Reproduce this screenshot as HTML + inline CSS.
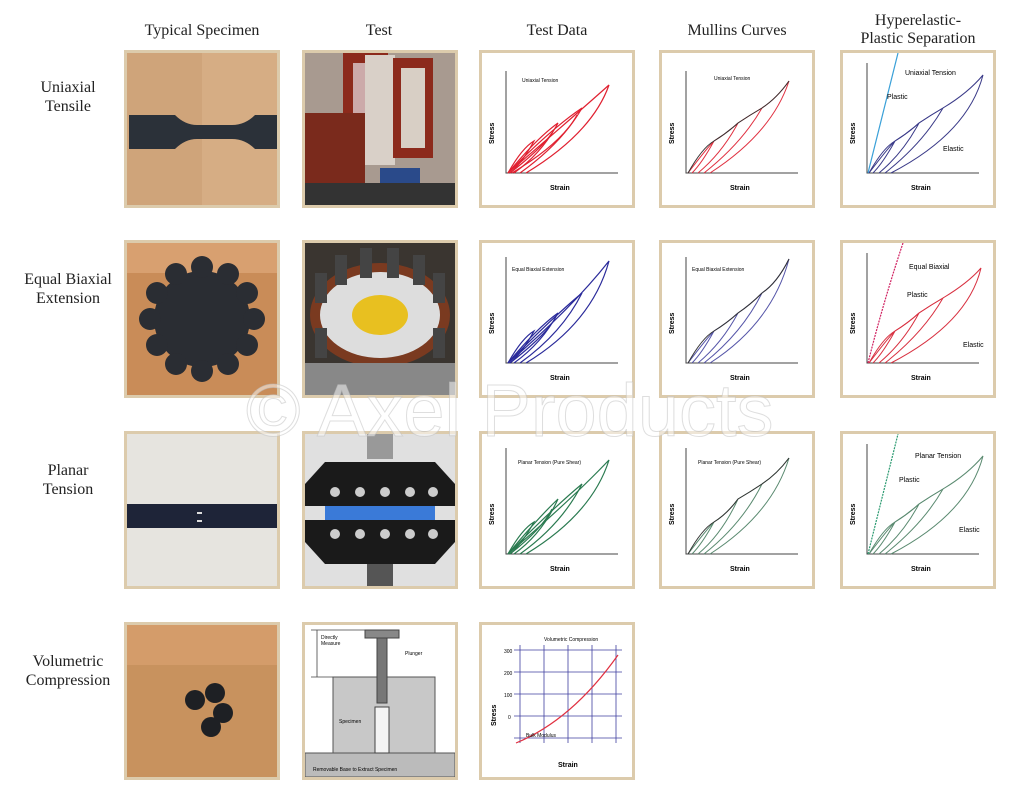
<!DOCTYPE html>
<html><head><meta charset="utf-8"><style>
body{margin:0;width:1024px;height:800px;background:#fff;position:relative;overflow:hidden;font-family:"Liberation Serif",serif;}
.h{position:absolute;top:20px;font-size:16px;color:#222;text-align:center;width:170px;line-height:18px}
.r{position:absolute;left:8px;width:120px;text-align:center;font-size:16px;color:#222;line-height:19px}
.b{position:absolute;width:150px;height:152px;border:3px solid #dccbac;overflow:hidden;background:#fff}
.b svg{position:absolute;left:0;top:0}
.wm{position:absolute;left:246px;top:368px;font-family:"Liberation Sans",sans-serif;font-size:74px;color:rgba(255,255,255,.5);-webkit-text-stroke:1px rgba(190,190,190,.5);white-space:nowrap}
</style></head><body>
<div class="h" style="left:117px;top:22px">Typical Specimen</div>
<div class="h" style="left:294px;top:22px">Test</div>
<div class="h" style="left:472px;top:22px">Test Data</div>
<div class="h" style="left:652px;top:22px">Mullins Curves</div>
<div class="h" style="left:833px;top:12px">Hyperelastic-<br>Plastic Separation</div>
<div class="r" style="top:78px">Uniaxial<br>Tensile</div>
<div class="r" style="top:270px">Equal Biaxial<br>Extension</div>
<div class="r" style="top:461px">Planar<br>Tension</div>
<div class="r" style="top:652px">Volumetric<br>Compression</div>

<!-- Row 1 -->
<div class="b" style="left:124px;top:50px;background:#d6ad84">
<svg width="150" height="152"><rect x="0" y="0" width="75" height="152" fill="#cfa47a"/><path d="M2,62 L48,62 Q58,72 70,72 L105,72 Q118,72 128,62 L150,62 L150,96 L128,96 Q118,86 105,86 L70,86 Q58,86 48,96 L2,96Z" fill="#2b3139"/></svg></div>
<div class="b" style="left:302px;top:50px;background:#6b5a52">
<svg width="150" height="152"><rect x="0" y="0" width="150" height="152" fill="#a89a90"/><rect x="38" y="0" width="45" height="90" fill="#8c2a1c"/><rect x="48" y="10" width="25" height="70" fill="#caa"/><rect x="60" y="2" width="30" height="110" fill="#d9d0c8"/><rect x="88" y="5" width="40" height="100" fill="#8c2a1c"/><rect x="96" y="15" width="24" height="80" fill="#d8cfc5"/><rect x="0" y="60" width="60" height="92" fill="#7a2a1c"/><rect x="75" y="115" width="40" height="37" fill="#2a4a8a"/><rect x="0" y="130" width="150" height="22" fill="#333"/></svg></div>

<div class="b" style="left:479px;top:50px">
<svg width="150" height="152" font-family="Liberation Sans" font-size="7"><text x="40" y="29" font-size="5">Uniaxial Tension</text><path d="M24,18 V120 H136" fill="none" stroke="#444"/><text x="6" y="85" transform="rotate(-90 12 85)" font-size="7" font-weight="bold">Stress</text><text x="68" y="137" font-weight="bold">Strain</text>
<g fill="none" stroke="#e02030" stroke-width="1.2"><path d="M26,120 Q40,95 52,88 Q40,110 28,120"/><path d="M26,120 Q55,85 76,70 Q60,100 32,120"/><path d="M26,120 Q70,75 100,55 Q80,90 38,120"/><path d="M26,120 Q90,65 127,32 Q110,80 44,120"/><path d="M28,120 Q60,95 70,80"/><path d="M30,120 Q80,90 95,62"/></g></svg></div>
<div class="b" style="left:659px;top:50px">
<svg width="150" height="152" font-family="Liberation Sans" font-size="7"><text x="52" y="27" font-size="5">Uniaxial Tension</text><path d="M24,18 V120 H136" fill="none" stroke="#444"/><text x="6" y="85" transform="rotate(-90 12 85)" font-weight="bold">Stress</text><text x="68" y="137" font-weight="bold">Strain</text>
<g fill="none" stroke="#e03040" stroke-width="1"><path d="M26,120 Q45,95 52,88 Q40,110 30,120"/><path d="M52,88 Q65,80 76,70 Q60,100 36,120"/><path d="M76,70 Q88,62 100,55 Q80,90 42,120"/><path d="M100,55 Q115,45 127,28 Q110,80 48,120"/></g><path d="M26,120 Q40,95 52,88 Q65,80 76,70 Q88,62 100,55 Q115,45 127,28" fill="none" stroke="#333"/></svg></div>
<div class="b" style="left:840px;top:50px">
<svg width="150" height="152" font-family="Liberation Sans" font-size="7"><text x="62" y="22">Uniaxial Tension</text><path d="M24,10 V120 H136" fill="none" stroke="#444"/><text x="6" y="85" transform="rotate(-90 12 85)" font-weight="bold">Stress</text><text x="68" y="137" font-weight="bold">Strain</text><path d="M25,120 Q40,60 55,0" fill="none" stroke="#3aa0d8" stroke-width="1.2"/><text x="44" y="46">Plastic</text><text x="100" y="98">Elastic</text>
<g fill="none" stroke="#3a3a88" stroke-width="1"><path d="M26,120 Q45,95 52,88 Q40,110 30,120"/><path d="M52,88 Q65,80 76,70 Q60,100 36,120"/><path d="M76,70 Q88,62 100,55 Q80,90 42,120"/><path d="M100,55 Q125,40 140,22 Q125,80 48,120"/><path d="M26,120 Q40,95 52,88 Q65,80 76,70 Q88,62 100,55"/></g></svg></div>

<!-- Row 2 -->
<div class="b" style="left:124px;top:240px;background:#c98c58">
<svg width="150" height="152"><rect x="0" y="0" width="150" height="30" fill="#d8a070"/><g fill="#2a2d33"><circle cx="75" cy="76" r="48"/>
<circle cx="75" cy="24" r="11"/><circle cx="101" cy="31" r="11"/><circle cx="120" cy="50" r="11"/><circle cx="127" cy="76" r="11"/><circle cx="120" cy="102" r="11"/><circle cx="101" cy="121" r="11"/><circle cx="75" cy="128" r="11"/><circle cx="49" cy="121" r="11"/><circle cx="30" cy="102" r="11"/><circle cx="23" cy="76" r="11"/><circle cx="30" cy="50" r="11"/><circle cx="49" cy="31" r="11"/></g></svg></div>
<div class="b" style="left:302px;top:240px;background:#3a3530">
<svg width="150" height="152"><ellipse cx="75" cy="72" rx="70" ry="52" fill="#7a3a20"/><ellipse cx="75" cy="72" rx="60" ry="43" fill="#ddd"/><ellipse cx="75" cy="72" rx="28" ry="20" fill="#e8c020"/><g fill="#444"><rect x="10" y="30" width="12" height="30"/><rect x="30" y="12" width="12" height="30"/><rect x="55" y="5" width="12" height="30"/><rect x="82" y="5" width="12" height="30"/><rect x="108" y="12" width="12" height="30"/><rect x="128" y="30" width="12" height="30"/><rect x="10" y="85" width="12" height="30"/><rect x="128" y="85" width="12" height="30"/></g><rect x="0" y="120" width="150" height="32" fill="#888"/></svg></div>
<div class="b" style="left:479px;top:240px">
<svg width="150" height="152" font-family="Liberation Sans" font-size="7"><text x="30" y="28" font-size="5">Equal Biaxial Extension</text><path d="M24,14 V120 H136" fill="none" stroke="#444"/><text x="6" y="85" transform="rotate(-90 12 85)" font-weight="bold">Stress</text><text x="68" y="137" font-weight="bold">Strain</text>
<g fill="none" stroke="#2a2a9a" stroke-width="1.2"><path d="M26,120 Q40,95 52,88 Q40,110 28,120"/><path d="M26,120 Q55,85 76,70 Q60,100 32,120"/><path d="M26,120 Q70,75 100,50 Q80,90 38,120"/><path d="M26,120 Q90,65 127,18 Q110,80 44,120"/><path d="M28,120 Q60,95 70,80"/></g></svg></div>
<div class="b" style="left:659px;top:240px">
<svg width="150" height="152" font-family="Liberation Sans" font-size="7"><text x="30" y="28" font-size="5">Equal Biaxial Extension</text><path d="M24,14 V120 H136" fill="none" stroke="#444"/><text x="6" y="85" transform="rotate(-90 12 85)" font-weight="bold">Stress</text><text x="68" y="137" font-weight="bold">Strain</text>
<g fill="none" stroke="#5555a8" stroke-width="1"><path d="M26,120 Q45,95 52,88 Q40,110 30,120"/><path d="M52,88 Q65,80 76,70 Q60,100 36,120"/><path d="M76,70 Q88,62 100,50 Q80,90 42,120"/><path d="M100,50 Q115,40 127,16 Q110,80 48,120"/></g><path d="M26,120 Q40,95 52,88 Q65,80 76,70 Q88,62 100,50 Q115,40 127,16" fill="none" stroke="#333"/></svg></div>
<div class="b" style="left:840px;top:240px">
<svg width="150" height="152" font-family="Liberation Sans" font-size="7"><text x="66" y="26">Equal Biaxial</text><path d="M24,10 V120 H136" fill="none" stroke="#444"/><text x="6" y="85" transform="rotate(-90 12 85)" font-weight="bold">Stress</text><text x="68" y="137" font-weight="bold">Strain</text><path d="M25,120 Q40,60 60,0" fill="none" stroke="#d02060" stroke-width="1.2" stroke-dasharray="2 1"/><text x="64" y="54">Plastic</text><text x="120" y="104">Elastic</text>
<g fill="none" stroke="#d83040" stroke-width="1"><path d="M26,120 Q45,95 52,88 Q40,110 30,120"/><path d="M52,88 Q65,80 76,70 Q60,100 36,120"/><path d="M76,70 Q88,62 100,55 Q80,90 42,120"/><path d="M100,55 Q125,40 138,25 Q125,80 48,120"/><path d="M26,120 Q40,95 52,88 Q65,80 76,70 Q88,62 100,55"/></g></svg></div>

<!-- Row 3 -->
<div class="b" style="left:124px;top:431px;background:#e6e4df">
<svg width="150" height="152"><rect x="0" y="70" width="150" height="24" fill="#1e2438"/><rect x="70" y="78" width="5" height="2" fill="#ddd"/><rect x="70" y="86" width="5" height="2" fill="#ddd"/></svg></div>
<div class="b" style="left:302px;top:431px;background:#e0e0e0">
<svg width="150" height="152"><rect x="62" y="0" width="26" height="25" fill="#999"/><path d="M20,28 L130,28 L150,50 L150,72 L0,72 L0,50Z" fill="#1a1a1a"/><rect x="20" y="72" width="110" height="14" fill="#3a7ad8"/><path d="M0,86 L150,86 L150,108 L130,130 L20,130 L0,108Z" fill="#1a1a1a"/><g fill="#ccc"><circle cx="30" cy="58" r="5"/><circle cx="55" cy="58" r="5"/><circle cx="80" cy="58" r="5"/><circle cx="105" cy="58" r="5"/><circle cx="128" cy="58" r="5"/><circle cx="30" cy="100" r="5"/><circle cx="55" cy="100" r="5"/><circle cx="80" cy="100" r="5"/><circle cx="105" cy="100" r="5"/><circle cx="128" cy="100" r="5"/></g><rect x="62" y="130" width="26" height="22" fill="#555"/></svg></div>
<div class="b" style="left:479px;top:431px">
<svg width="150" height="152" font-family="Liberation Sans" font-size="7"><text x="36" y="30" font-size="5">Planar Tension (Pure Shear)</text><path d="M24,14 V120 H136" fill="none" stroke="#444"/><text x="6" y="85" transform="rotate(-90 12 85)" font-weight="bold">Stress</text><text x="68" y="137" font-weight="bold">Strain</text>
<g fill="none" stroke="#2a7a50" stroke-width="1.2"><path d="M26,120 Q40,95 52,88 Q40,110 28,120"/><path d="M26,120 Q55,85 76,65 Q60,100 32,120"/><path d="M26,120 Q70,75 100,50 Q80,90 38,120"/><path d="M26,120 Q90,65 127,26 Q110,80 44,120"/><path d="M28,120 Q60,95 70,75"/></g></svg></div>
<div class="b" style="left:659px;top:431px">
<svg width="150" height="152" font-family="Liberation Sans" font-size="7"><text x="36" y="30" font-size="5">Planar Tension (Pure Shear)</text><path d="M24,14 V120 H136" fill="none" stroke="#444"/><text x="6" y="85" transform="rotate(-90 12 85)" font-weight="bold">Stress</text><text x="68" y="137" font-weight="bold">Strain</text>
<g fill="none" stroke="#5a8a70" stroke-width="1"><path d="M26,120 Q45,95 52,88 Q40,110 30,120"/><path d="M52,88 Q65,80 76,65 Q60,100 36,120"/><path d="M76,65 Q88,58 100,50 Q80,90 42,120"/><path d="M100,50 Q115,40 127,24 Q110,80 48,120"/></g><path d="M26,120 Q40,95 52,88 Q65,80 76,65 Q88,58 100,50 Q115,40 127,24" fill="none" stroke="#333"/></svg></div>
<div class="b" style="left:840px;top:431px">
<svg width="150" height="152" font-family="Liberation Sans" font-size="7"><text x="72" y="24">Planar Tension</text><path d="M24,10 V120 H136" fill="none" stroke="#444"/><text x="6" y="85" transform="rotate(-90 12 85)" font-weight="bold">Stress</text><text x="68" y="137" font-weight="bold">Strain</text><path d="M25,120 Q40,60 55,0" fill="none" stroke="#2a9a70" stroke-width="1.2" stroke-dasharray="2 1"/><text x="56" y="48">Plastic</text><text x="116" y="98">Elastic</text>
<g fill="none" stroke="#5a8a70" stroke-width="1"><path d="M26,120 Q45,95 52,88 Q40,110 30,120"/><path d="M52,88 Q65,80 76,70 Q60,100 36,120"/><path d="M76,70 Q88,62 100,55 Q80,90 42,120"/><path d="M100,55 Q125,40 140,22 Q125,80 48,120"/><path d="M26,120 Q40,95 52,88 Q65,80 76,70 Q88,62 100,55"/></g></svg></div>

<!-- Row 4 -->
<div class="b" style="left:124px;top:622px;background:#c8925e">
<svg width="150" height="152"><rect x="0" y="0" width="150" height="40" fill="#d49c6a"/><g fill="#1e2024"><circle cx="68" cy="75" r="10"/><circle cx="88" cy="68" r="10"/><circle cx="96" cy="88" r="10"/><circle cx="84" cy="102" r="10"/></g></svg></div>
<div class="b" style="left:302px;top:622px">
<svg width="150" height="152" font-family="Liberation Sans" font-size="5"><rect x="28" y="52" width="102" height="76" fill="#c8c8c8" stroke="#555"/><rect x="0" y="128" width="150" height="24" fill="#bbb" stroke="#555"/><rect x="60" y="5" width="34" height="8" fill="#888" stroke="#444"/><rect x="72" y="13" width="10" height="65" fill="#777" stroke="#444"/><rect x="70" y="82" width="14" height="46" fill="#f4f4f4" stroke="#444"/><path d="M12,5 V52 M6,5 H60 M6,52 H28" stroke="#444" fill="none" stroke-width=".8"/><text x="16" y="14">Directly</text><text x="16" y="20">Measure</text><text x="100" y="30">Plunger</text><text x="34" y="98">Specimen</text><text x="8" y="146">Removable Base to Extract Specimen</text></svg></div>
<div class="b" style="left:479px;top:622px">
<svg width="150" height="152" font-family="Liberation Sans" font-size="5"><text x="62" y="16">Volumetric Compression</text><g stroke="#4040a0" stroke-width=".8"><path d="M32,25 H140 M32,47 H140 M32,69 H140 M32,91 H140 M32,113 H140 M38,20 V118 M62,20 V118 M86,20 V118 M110,20 V118 M134,20 V118"/></g><path d="M34,118 Q90,95 136,30" fill="none" stroke="#e03040" stroke-width="1.2"/><text x="8" y="95" transform="rotate(-90 14 95)" font-size="7" font-weight="bold">Stress</text><text x="76" y="142" font-size="7" font-weight="bold">Strain</text><text x="44" y="112">Bulk Modulus</text><text x="22" y="28">300</text><text x="22" y="50">200</text><text x="22" y="72">100</text><text x="26" y="94">0</text></svg></div>

<div class="wm">© Axel Products</div>
</body></html>
